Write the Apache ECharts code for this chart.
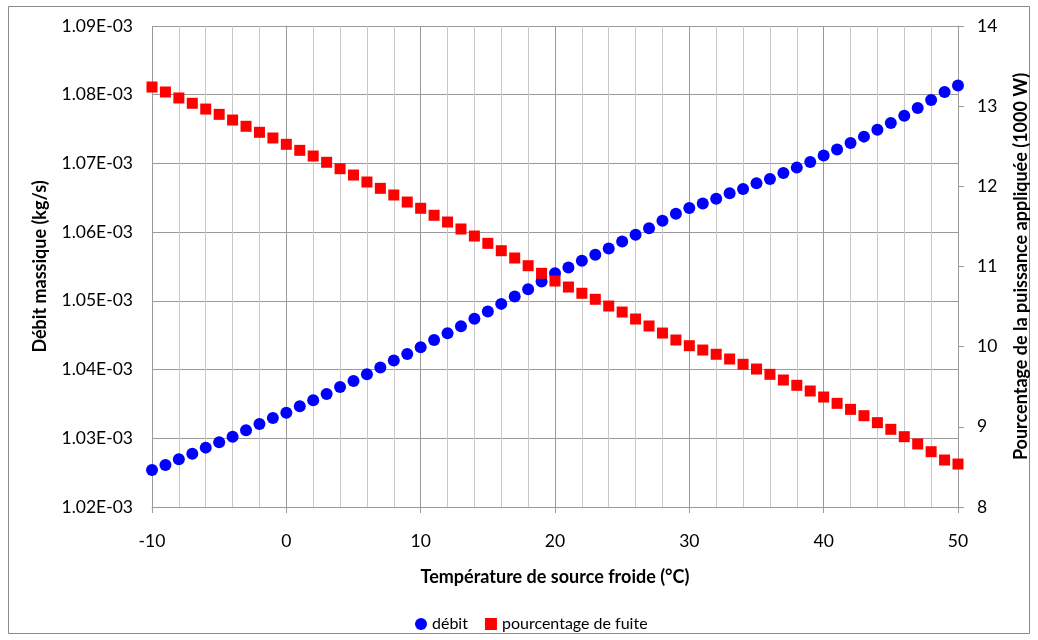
<!DOCTYPE html>
<html>
<head>
<meta charset="utf-8">
<script src="https://cdn.jsdelivr.net/npm/echarts@6/dist/echarts.min.js"></script>
<style>
  html, body { margin: 0; padding: 0; background: #fff; }
  #chart { width: 1038px; height: 640px; }
</style>
</head>
<body>
<div id="chart"></div>
<script>
// Température de source froide (°C)
var temps = [-10, -9, -8, -7, -6, -5, -4, -3, -2, -1, 0, 1, 2, 3, 4, 5, 6, 7, 8, 9,
  10, 11, 12, 13, 14, 15, 16, 17, 18, 19, 20, 21, 22, 23, 24, 25, 26, 27, 28, 29,
  30, 31, 32, 33, 34, 35, 36, 37, 38, 39, 40, 41, 42, 43, 44, 45, 46, 47, 48, 49, 50];

// débit massique (kg/s), axe de gauche
var debit = [1.02539e-3, 1.02612e-3, 1.02695e-3, 1.02776e-3, 1.02864e-3, 1.02942e-3, 1.03024e-3, 1.03117e-3, 1.03209e-3, 1.03296e-3,
  1.03373e-3, 1.03466e-3, 1.03554e-3, 1.03646e-3, 1.03748e-3, 1.03835e-3, 1.03932e-3, 1.04029e-3, 1.04131e-3, 1.04228e-3,
  1.04326e-3, 1.04432e-3, 1.04529e-3, 1.04631e-3, 1.04738e-3, 1.04844e-3, 1.04956e-3, 1.05063e-3, 1.05170e-3, 1.05281e-3,
  1.05403e-3, 1.05485e-3, 1.05582e-3, 1.05670e-3, 1.05762e-3, 1.05864e-3, 1.05961e-3, 1.06058e-3, 1.06165e-3, 1.06267e-3,
  1.06350e-3, 1.06417e-3, 1.06485e-3, 1.06566e-3, 1.06629e-3, 1.06711e-3, 1.06775e-3, 1.06862e-3, 1.06939e-3, 1.07022e-3,
  1.07114e-3, 1.07201e-3, 1.07298e-3, 1.07390e-3, 1.07490e-3, 1.07588e-3, 1.07694e-3, 1.07806e-3, 1.07923e-3, 1.08039e-3,
  1.08135e-3];

// pourcentage de fuite, axe de droite
var fuite = [13.239, 13.177, 13.102, 13.036, 12.964, 12.898, 12.827, 12.749, 12.674, 12.603,
  12.524, 12.449, 12.378, 12.300, 12.220, 12.141, 12.054, 11.975, 11.892, 11.804,
  11.726, 11.639, 11.555, 11.468, 11.380, 11.289, 11.197, 11.106, 11.010, 10.915,
  10.819, 10.744, 10.666, 10.591, 10.507, 10.432, 10.345, 10.258, 10.170, 10.083,
  10.012, 9.958, 9.905, 9.846, 9.780, 9.721, 9.655, 9.584, 9.518, 9.447,
  9.372, 9.293, 9.218, 9.139, 9.052, 8.969, 8.877, 8.786, 8.690, 8.586,
  8.536];

var seriesNames = ['débit', 'pourcentage de fuite'];

var font = 'Lato, "Open Sans", sans-serif';
var gridGray = '#9a9a9a';

var chart = echarts.init(document.getElementById('chart'), null, { width: 1038, height: 640 });

var option = {
  animation: false,
  backgroundColor: '#fff',
  textStyle: { fontFamily: font, color: '#000' },
  graphic: [{
    type: 'rect',
    shape: { x: 8.5, y: 6.5, width: 1021, height: 627 },
    style: { fill: 'none', stroke: '#8a8a8a', lineWidth: 1 },
    silent: true
  }],
  grid: { left: 152, right: 80, top: 26, bottom: 133, containLabel: false, outerBoundsMode: 'none' },
  legend: {
    left: 410,
    top: 611,
    itemWidth: 12,
    itemHeight: 12,
    itemGap: 17,
    textStyle: { fontFamily: font, fontSize: 16, color: '#000' },
    data: [
      { name: seriesNames[0], icon: 'circle' },
      { name: seriesNames[1], icon: 'rect' }
    ]
  },
  xAxis: {
    type: 'value',
    min: -10,
    max: 50,
    interval: 10,
    name: 'Température de source froide (°C)',
    nameLocation: 'middle',
    nameGap: 61,
    nameTextStyle: { fontFamily: font, fontSize: 18, fontWeight: 'bold', color: '#000' },
    axisLine: { show: true, lineStyle: { color: gridGray } },
    axisTick: { show: true, inside: false, length: 6, lineStyle: { color: gridGray } },
    axisLabel: { fontFamily: font, fontSize: 17.5, color: '#000', margin: 25 },
    splitLine: { show: true, lineStyle: { color: gridGray } },
    minorTick: { show: false, splitNumber: 5 },
    minorSplitLine: { show: true, lineStyle: { color: '#c8c8c8' } }
  },
  yAxis: [{
    type: 'value',
    position: 'left',
    min: 1.02e-3,
    max: 1.09e-3,
    interval: 1e-5,
    name: 'Débit massique (kg/s)',
    nameLocation: 'middle',
    nameRotate: 90,
    nameGap: 103,
    nameTextStyle: { fontFamily: font, fontSize: 18, fontWeight: 'bold', color: '#000' },
    axisLine: { show: true, lineStyle: { color: gridGray } },
    axisTick: { show: false },
    axisLabel: {
      fontFamily: font, fontSize: 17.5, color: '#000', margin: 19,
      formatter: function (v) { return (v * 1000).toFixed(2) + 'E-03'; }
    },
    splitLine: { show: true, lineStyle: { color: gridGray } }
  }, {
    type: 'value',
    position: 'right',
    min: 8,
    max: 14,
    interval: 1,
    name: 'Pourcentage de la puissance appliquée (1000 W)',
    nameLocation: 'middle',
    nameRotate: 90,
    nameGap: 54,
    nameTextStyle: { fontFamily: font, fontSize: 18, fontWeight: 'bold', color: '#000' },
    axisLine: { show: true, lineStyle: { color: gridGray } },
    axisTick: { show: true, inside: false, length: 6, lineStyle: { color: gridGray } },
    axisLabel: { fontFamily: font, fontSize: 17.5, color: '#000', margin: 19 },
    splitLine: { show: false }
  }],
  series: [{
    name: seriesNames[0],
    type: 'scatter',
    yAxisIndex: 0,
    symbol: 'circle',
    symbolSize: 12,
    itemStyle: { color: '#0000ff', opacity: 1 },
    data: temps.map(function (t, i) { return [t, debit[i]]; })
  }, {
    name: seriesNames[1],
    type: 'scatter',
    yAxisIndex: 1,
    symbol: 'rect',
    symbolSize: 11,
    itemStyle: { color: '#ff0000', opacity: 1 },
    data: temps.map(function (t, i) { return [t, fuite[i]]; })
  }]
};

chart.setOption(option);
</script>
</body>
</html>
